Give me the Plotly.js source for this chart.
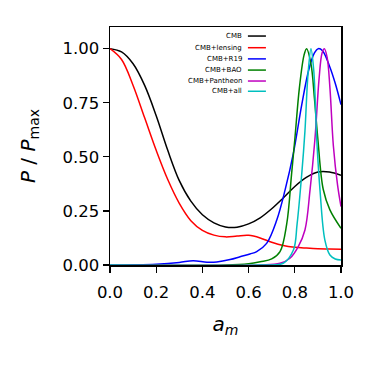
<!DOCTYPE html>
<html>
<head>
<meta charset="utf-8">
<script src="https://cdn.plot.ly/plotly-3.0.1.min.js"></script>
<style>
  html, body { margin: 0; padding: 0; background: #fff; }
  #chart { width: 374px; height: 366px; }
</style>
</head>
<body>
<div id="chart"></div>
<script>
// values
var names = ['CMB', 'CMB+lensing', 'CMB+R19', 'CMB+BAO', 'CMB+Pantheon', 'CMB+all'];
var colors = ['#000000', '#ff0000', '#0000ff', '#008000', '#bf00bf', '#00bfbf'];

var xCmb = [0, 0.05, 0.1, 0.15, 0.2, 0.25, 0.3, 0.35, 0.4, 0.45, 0.5, 0.55, 0.6, 0.65, 0.7, 0.75, 0.8, 0.85, 0.9, 0.95, 1.0];
var yCmb = [1.0, 0.985, 0.93, 0.83, 0.69, 0.53, 0.39, 0.295, 0.232, 0.195, 0.176, 0.175, 0.19, 0.218, 0.26, 0.31, 0.363, 0.405, 0.43, 0.43, 0.415];

var xLens = [0, 0.05, 0.1, 0.15, 0.2, 0.25, 0.3, 0.35, 0.4, 0.45, 0.5, 0.55, 0.6, 0.65, 0.7, 0.75, 0.8, 0.85, 0.9, 0.95, 1.0];
var yLens = [1.0, 0.95, 0.83, 0.68, 0.53, 0.395, 0.285, 0.205, 0.16, 0.138, 0.13, 0.134, 0.137, 0.125, 0.105, 0.09, 0.082, 0.078, 0.075, 0.074, 0.073];

var xR19 = [0, 0.1, 0.2, 0.3, 0.36, 0.42, 0.462, 0.52, 0.563, 0.606, 0.635, 0.678, 0.722, 0.758, 0.794, 0.83, 0.86, 0.885, 0.902, 0.92, 0.95, 0.975, 1.0];
var yR19 = [0, 0.001, 0.004, 0.012, 0.02, 0.013, 0.014, 0.025, 0.038, 0.051, 0.062, 0.1, 0.208, 0.347, 0.517, 0.74, 0.9, 0.98, 1.0, 0.99, 0.92, 0.84, 0.741];

var xBao = [0, 0.5, 0.6, 0.65, 0.7, 0.736, 0.765, 0.786, 0.8, 0.82, 0.84, 0.851, 0.87, 0.885, 0.9, 0.923, 0.952, 1.0];
var yBao = [0, 0, 0.006, 0.015, 0.028, 0.062, 0.19, 0.42, 0.58, 0.82, 0.97, 1.0, 0.93, 0.77, 0.58, 0.35, 0.255, 0.17];

var xPan = [0, 0.65, 0.736, 0.779, 0.815, 0.844, 0.866, 0.887, 0.905, 0.918, 0.928, 0.94, 0.952, 0.967, 0.985, 1.0];
var yPan = [0, 0, 0.008, 0.031, 0.085, 0.162, 0.347, 0.58, 0.86, 0.98, 1.0, 0.96, 0.82, 0.55, 0.37, 0.27];

var xAll = [0, 0.65, 0.75, 0.794, 0.81, 0.83, 0.844, 0.857, 0.87, 0.882, 0.895, 0.909, 0.93, 0.952, 0.975, 1.0];
var yAll = [0, 0, 0.008, 0.069, 0.19, 0.42, 0.62, 0.88, 1.0, 0.9, 0.58, 0.347, 0.116, 0.046, 0.028, 0.023];

var xs = [xCmb, xLens, xR19, xBao, xPan, xAll];
var ys = [yCmb, yLens, yR19, yBao, yPan, yAll];

var data = [];
for (var i = 0; i < names.length; i++) {
  data.push({
    x: xs[i],
    y: ys[i],
    mode: 'lines',
    name: names[i],
    line: { color: colors[i], width: 1.5, shape: 'spline', smoothing: 1 },
    type: 'scatter'
  });
}

// legend drawn by hand: text right-aligned, line sample to its right
var legY = [0.962, 0.913, 0.866, 0.819, 0.773, 0.730];
var annotations = [];
var shapes = [];
for (var j = 0; j < names.length; j++) {
  annotations.push({
    xref: 'paper', yref: 'paper', x: 0.58, y: legY[j],
    xanchor: 'right', yanchor: 'middle', showarrow: false,
    text: names[j], font: { size: 7, color: '#000' }
  });
  shapes.push({
    type: 'line', xref: 'paper', yref: 'paper',
    x0: 0.597, x1: 0.675, y0: legY[j], y1: legY[j],
    line: { color: colors[j], width: 1.5 }
  });
}

var axisStyle = {
  showgrid: false,
  zeroline: false,
  showline: true,
  mirror: true,
  linecolor: '#000',
  linewidth: 1.5,
  ticks: 'outside',
  ticklen: 6,
  tickwidth: 1.3,
  tickcolor: '#000',
  tickfont: { size: 16.5, color: '#000' }
};

var layout = {
  width: 374,
  height: 366,
  margin: { l: 110, r: 33, t: 27, b: 101 },
  paper_bgcolor: '#fff',
  plot_bgcolor: '#fff',
  font: { family: 'DejaVu Sans', color: '#000' },
  showlegend: false,
  xaxis: Object.assign({}, axisStyle, {
    range: [0, 1.0],
    tickvals: [0, 0.2, 0.4, 0.6, 0.8, 1.0],
    ticktext: ['0.0', '0.2', '0.4', '0.6', '0.8', '1.0'],
    ticklabelstandoff: 6,
    title: { text: '<i>a</i><sub><i>m</i></sub>', font: { size: 20 }, standoff: 15 }
  }),
  yaxis: Object.assign({}, axisStyle, {
    range: [0, 1.1],
    tickvals: [0, 0.25, 0.5, 0.75, 1.0],
    ticktext: ['0.00', '0.25', '0.50', '0.75', '1.00'],
    title: { text: '<i>P</i> / <i>P</i><sub>max</sub>', font: { size: 20 }, standoff: 21 }
  }),
  annotations: annotations,
  shapes: shapes
};

Plotly.newPlot('chart', data, layout, { displayModeBar: false, staticPlot: true });
</script>
</body>
</html>
